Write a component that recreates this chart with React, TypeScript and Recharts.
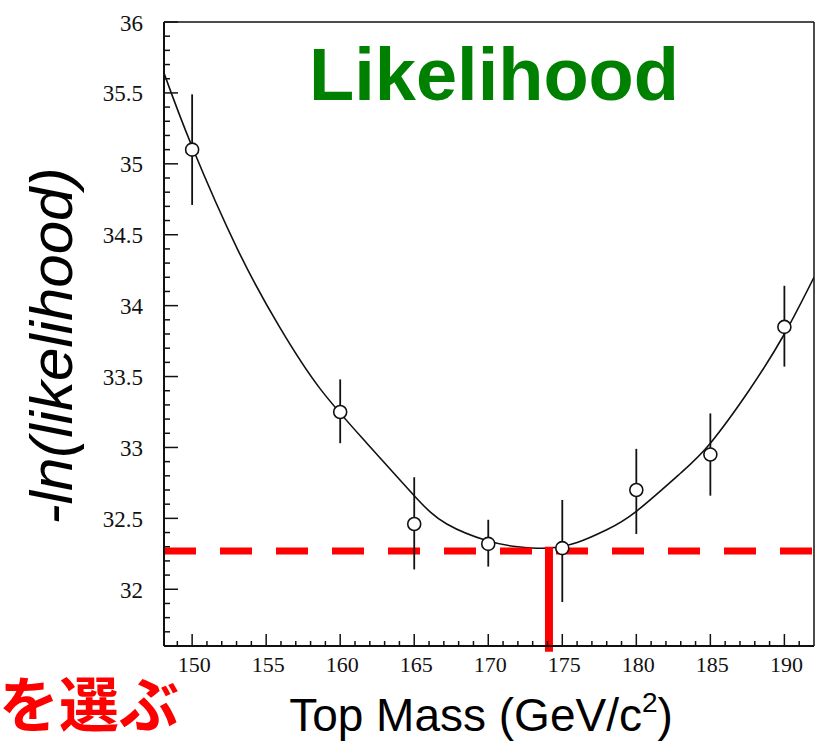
import { ComposedChart, Line, Scatter, ErrorBar, XAxis, YAxis, ReferenceLine } from 'recharts';

// measured points (top mass scan) with error bar bounds
const massPoints = [150, 160, 165, 170, 175, 180, 185, 190];
const nllValues = [35.1, 33.25, 32.46, 32.32, 32.29, 32.7, 32.95, 33.85];
const errLower = [34.71, 33.03, 32.14, 32.16, 31.91, 32.39, 32.66, 33.57];
const errUpper = [35.49, 33.48, 32.79, 32.49, 32.63, 32.99, 33.24, 34.14];

// fitted curve
const fitMass = [148.1, 150, 153.1, 155.9, 158.6, 161.8, 165, 167.2, 170, 172, 174, 176, 178, 180, 183, 185, 187.6, 190, 192];
const fitNll = [35.64, 35.12, 34.39, 33.85, 33.42, 33.03, 32.66, 32.46, 32.34, 32.3, 32.29, 32.33, 32.42, 32.55, 32.82, 33.03, 33.4, 33.8, 34.2];

const xTickLabels = [150, 155, 160, 165, 170, 175, 180, 185, 190];
const yTickLabels = ['32', '32.5', '33', '33.5', '34', '34.5', '35', '35.5', '36'];

const bestMass = 174.1;
const minNll = 32.27;

const xDomain = [148.1, 192];
const yDomain = [31.6, 36];

const pointTable = massPoints.map((m, i) => ({
  x: m,
  v: nllValues[i],
  err: [nllValues[i] - errLower[i], errUpper[i] - nllValues[i]],
}));
const curveTable = fitMass.map((m, i) => ({ x: m, v: fitNll[i] }));

// minor ticks every 1 GeV / every 0.1 in -ln L
const xTicks = Array.from({ length: 43 }, (_, i) => 149 + i);
const yTicks = Array.from({ length: 44 }, (_, i) => Math.round((31.7 + i * 0.1) * 10) / 10);

const serif = '"Liberation Serif", "Times New Roman", serif';
const sans = '"Liberation Sans", Arial, sans-serif';

const XTick = ({ x, y, payload }: any) => {
  const v = payload.value;
  const major = xTickLabels.includes(v);
  return (
    <g>
      <line x1={x} x2={x} y1={y} y2={y - (major ? 12 : 5)} stroke="#111" strokeWidth={1.5} />
      {major && (
        <text x={x + 2} y={y + 26} textAnchor="middle" fontFamily={serif} fontSize={22} fill="#111">
          {v}
        </text>
      )}
    </g>
  );
};

const YTick = ({ x, y, payload }: any) => {
  const v = payload.value;
  const label = String(v);
  const major = yTickLabels.includes(label);
  return (
    <g>
      <line x1={x} x2={x + (major ? 14 : 6)} y1={y} y2={y} stroke="#111" strokeWidth={1.5} />
      {major && (
        <text x={x - 21} y={y + 1} textAnchor="end" dominantBaseline="central" fontFamily={serif} fontSize={23} fill="#111">
          {label}
        </text>
      )}
    </g>
  );
};

const OpenCircle = ({ cx, cy }: any) => (
  <circle cx={cx} cy={cy} r={6.5} fill="#fff" stroke="#111" strokeWidth={1.6} />
);

export default function App() {
  return (
    <div style={{ position: 'absolute', left: 0, top: 0, width: 821, height: 747, background: '#fff' }}>
      <ComposedChart
        width={821}
        height={747}
        margin={{ top: 22, right: 7, left: 104, bottom: 71 }}
      >
        <XAxis
          dataKey="x"
          type="number"
          domain={xDomain}
          ticks={xTicks}
          interval={0}
          allowDataOverflow
          height={30}
          tickSize={0}
          tickMargin={0}
          tick={<XTick />}
          axisLine={{ stroke: '#111', strokeWidth: 2 }}
        />
        <YAxis
          type="number"
          domain={yDomain}
          ticks={yTicks}
          interval={0}
          allowDataOverflow
          width={60}
          tickSize={0}
          tickMargin={0}
          tick={<YTick />}
          axisLine={{ stroke: '#111', strokeWidth: 2 }}
        />
        {/* top and right frame */}
        <ReferenceLine y={36} stroke="#111" strokeWidth={1.5} ifOverflow="visible" />
        <ReferenceLine x={192} stroke="#111" strokeWidth={1.5} ifOverflow="visible" />
        <Line
          data={curveTable}
          dataKey="v"
          type="natural"
          stroke="#111"
          strokeWidth={1.6}
          dot={false}
          activeDot={false}
          isAnimationActive={false}
        />
        <ReferenceLine
          y={minNll}
          stroke="#ff0000"
          strokeWidth={7}
          strokeDasharray="32 24"
        />
        <ReferenceLine
          segment={[{ x: bestMass, y: 32.3 }, { x: bestMass, y: 31.56 }]}
          ifOverflow="visible"
          stroke="#ff0000"
          strokeWidth={8}
        />
        <Scatter data={pointTable} dataKey="v" shape={<OpenCircle />} isAnimationActive={false}>
          <ErrorBar dataKey="err" direction="y" width={0} stroke="#111" strokeWidth={1.8} isAnimationActive={false} />
        </Scatter>
      </ComposedChart>
      <svg
        width={821}
        height={747}
        style={{ position: 'absolute', left: 0, top: 0, pointerEvents: 'none' }}
      >
        <text x={494} y={100} textAnchor="middle" fontFamily={sans} fontWeight="bold" fontSize={74} fill="#008000">
          Likelihood
        </text>
        <text
          transform="translate(72,346) rotate(-90)"
          textAnchor="middle"
          fontFamily={sans}
          fontStyle="italic"
          fontSize={60}
          fill="#000"
        >
          -ln(likelihood)
        </text>
        <text x={481} y={731} textAnchor="middle" fontFamily={sans} fontSize={46} fill="#000">
          Top Mass (GeV/c
          <tspan fontSize={28} dy={-19}>2</tspan>
          <tspan dy={19}>)</tspan>
        </text>
        <text x={-1} y={727} fontFamily='"Noto Sans CJK JP", sans-serif' fontWeight="bold" fontSize={60} fill="#ff0000">
          を選ぶ
        </text>
      </svg>
    </div>
  );
}
